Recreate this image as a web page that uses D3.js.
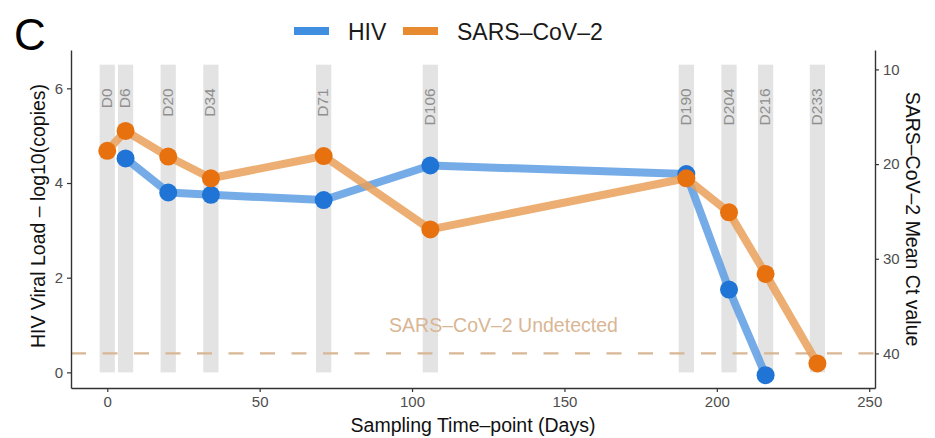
<!DOCTYPE html>
<html>
<head>
<meta charset="utf-8">
<script src="https://cdn.jsdelivr.net/npm/d3@7"></script>
<style>
  html, body { margin: 0; padding: 0; background: #fff; }
  svg { display: block; font-family: "Liberation Sans", Arial, Helvetica, sans-serif; }
</style>
</head>
<body>
<svg id="chart" width="935" height="438"></svg>
<script>
// ---------- data ----------
const sampleDays   = [0, 6, 20, 34, 71, 106, 190, 204, 216, 233];
const sampleLabels = ["D0", "D6", "D20", "D34", "D71", "D106", "D190", "D204", "D216", "D233"];
const hivDays      = [6, 20, 34, 71, 106, 190, 204, 216];
const hivLog10     = [4.52, 3.80, 3.75, 3.64, 4.37, 4.19, 1.75, -0.06];
const sarsDays     = [0, 6, 20, 34, 71, 106, 190, 204, 216, 233];
const sarsCt       = [18.6, 16.5, 19.2, 21.5, 19.15, 26.9, 21.5, 25.1, 31.6, 41.05];
const xTicks       = [0, 50, 100, 150, 200, 250];
const yLeftTicks   = [0, 2, 4, 6];
const yRightTicks  = [10, 20, 30, 40];
const undetectedCt = 40;
const seriesNames  = ["HIV", "SARS–CoV–2"];

// ---------- layout ----------
const svg = d3.select("#chart");
const L = 71, R = 875, T = 50, B = 388;

const x = d3.scaleLinear().domain([-11.9, 251.9]).range([L, R]);
const yL = d3.scaleLinear().domain([-0.33, 6.81]).range([B, T]);
// Ct <-> left axis mapping: left = (42 - Ct) / 5
const ctToLeft = ct => (42 - ct) / 5;
const yR = d3.scaleLinear().domain([42 + 5 * 0.33, 42 - 5 * 6.81]).range([B, T]);

const colBlue = "#1f74d6", colBlueLine = "#5d9ee3";
const colOrange = "#e8710f", colOrangeLine = "#e9a059";
const colTan = "#d9b694";

// gray sample bars
svg.append("g").selectAll("rect").data(sampleDays).join("rect")
  .attr("x", d => x(d - 2.5))
  .attr("width", d => x(d + 2.5) - x(d - 2.5))
  .attr("y", yL(6.5))
  .attr("height", yL(0) - yL(6.5))
  .attr("fill", "#e3e3e3");

// day labels
svg.append("g").selectAll("text").data(sampleDays).join("text")
  .attr("transform", d => `translate(${x(d) - 1},${yL(6)}) rotate(-90)`)
  .attr("text-anchor", "end")
  .attr("dy", "0.36em")
  .attr("font-size", 15.5)
  .attr("fill", "#8f8f8f")
  .text((d, i) => sampleLabels[i]);

// undetected dashed line
svg.append("line")
  .attr("x1", L).attr("x2", R)
  .attr("y1", yR(undetectedCt)).attr("y2", yR(undetectedCt))
  .attr("stroke", colTan).attr("stroke-width", 2.2)
  .attr("stroke-dasharray", "15,16.5");

svg.append("text")
  .attr("x", x(130)).attr("y", yL(1.0))
  .attr("text-anchor", "middle").attr("dy", "0.36em")
  .attr("font-size", 19.5).attr("fill", colTan)
  .text("SARS–CoV–2 Undetected");

// HIV line + points, then SARS-CoV-2 line + points
const hiv = hivDays.map((d, i) => [d, hivLog10[i]]);
const sars = sarsDays.map((d, i) => [d, ctToLeft(sarsCt[i])]);
const line = d3.line().x(d => x(d[0])).y(d => yL(d[1]));

svg.append("path").datum(hiv).attr("d", line)
  .attr("fill", "none").attr("stroke", colBlueLine).attr("stroke-width", 8)
  .attr("stroke-opacity", 0.85).attr("stroke-linejoin", "round");
svg.append("g").selectAll("circle").data(hiv).join("circle")
  .attr("cx", d => x(d[0])).attr("cy", d => yL(d[1])).attr("r", 9)
  .attr("fill", colBlue);

svg.append("path").datum(sars).attr("d", line)
  .attr("fill", "none").attr("stroke", colOrangeLine).attr("stroke-width", 8)
  .attr("stroke-opacity", 0.85).attr("stroke-linejoin", "round");
svg.append("g").selectAll("circle").data(sars).join("circle")
  .attr("cx", d => x(d[0])).attr("cy", d => yL(d[1])).attr("r", 9)
  .attr("fill", colOrange);

// ---------- axes ----------
const axisColor = "#333", tickLabelColor = "#4d4d4d";
function styleAxis(g) {
  g.selectAll("path").attr("stroke", axisColor).attr("stroke-width", 1.4);
  g.selectAll("line").attr("stroke", axisColor).attr("stroke-width", 1.2);
  g.selectAll("text").attr("fill", tickLabelColor).attr("font-size", 15)
    .attr("font-family", "Liberation Sans, Arial, sans-serif");
}
const gx = svg.append("g").attr("transform", `translate(0,${B})`)
  .call(d3.axisBottom(x).tickValues(xTicks).tickSize(4).tickPadding(4).tickSizeOuter(0));
styleAxis(gx);
const gyl = svg.append("g").attr("transform", `translate(${L},0)`)
  .call(d3.axisLeft(yL).tickValues(yLeftTicks).tickSize(4).tickPadding(4).tickSizeOuter(0));
styleAxis(gyl);
const gyr = svg.append("g").attr("transform", `translate(${R},0)`)
  .call(d3.axisRight(yR).tickValues(yRightTicks).tickSize(4).tickPadding(4).tickSizeOuter(0));
styleAxis(gyr);

// axis titles
svg.append("text")
  .attr("x", (L + R) / 2).attr("y", 432)
  .attr("text-anchor", "middle").attr("font-size", 19.5).attr("fill", "#111")
  .text("Sampling Time–point (Days)");
svg.append("text")
  .attr("transform", `translate(45,${(T + B) / 2 - 3}) rotate(-90)`)
  .attr("text-anchor", "middle").attr("font-size", 19.5).attr("fill", "#111")
  .text("HIV Viral Load – log10(copies)");
svg.append("text")
  .attr("transform", `translate(906,${(T + B) / 2}) rotate(90)`)
  .attr("text-anchor", "middle").attr("font-size", 19.5).attr("fill", "#111")
  .text("SARS–CoV–2 Mean Ct value");

// panel letter
svg.append("text").attr("x", 14).attr("y", 50)
  .attr("font-size", 44).attr("fill", "#000").text("C");

// legend
const legend = svg.append("g");
const legItems = [
  { name: seriesNames[0], color: "#3f8ee0", kx: 294, tx: 348 },
  { name: seriesNames[1], color: "#e88a30", kx: 403, tx: 457 }
];
legItems.forEach(it => {
  legend.append("line")
    .attr("x1", it.kx).attr("x2", it.kx + 35)
    .attr("y1", 31).attr("y2", 31)
    .attr("stroke", it.color).attr("stroke-width", 8);
  legend.append("text").attr("x", it.tx).attr("y", 40)
    .attr("font-size", 23).attr("fill", "#1a1a1a").text(it.name);
});
</script>
</body>
</html>
